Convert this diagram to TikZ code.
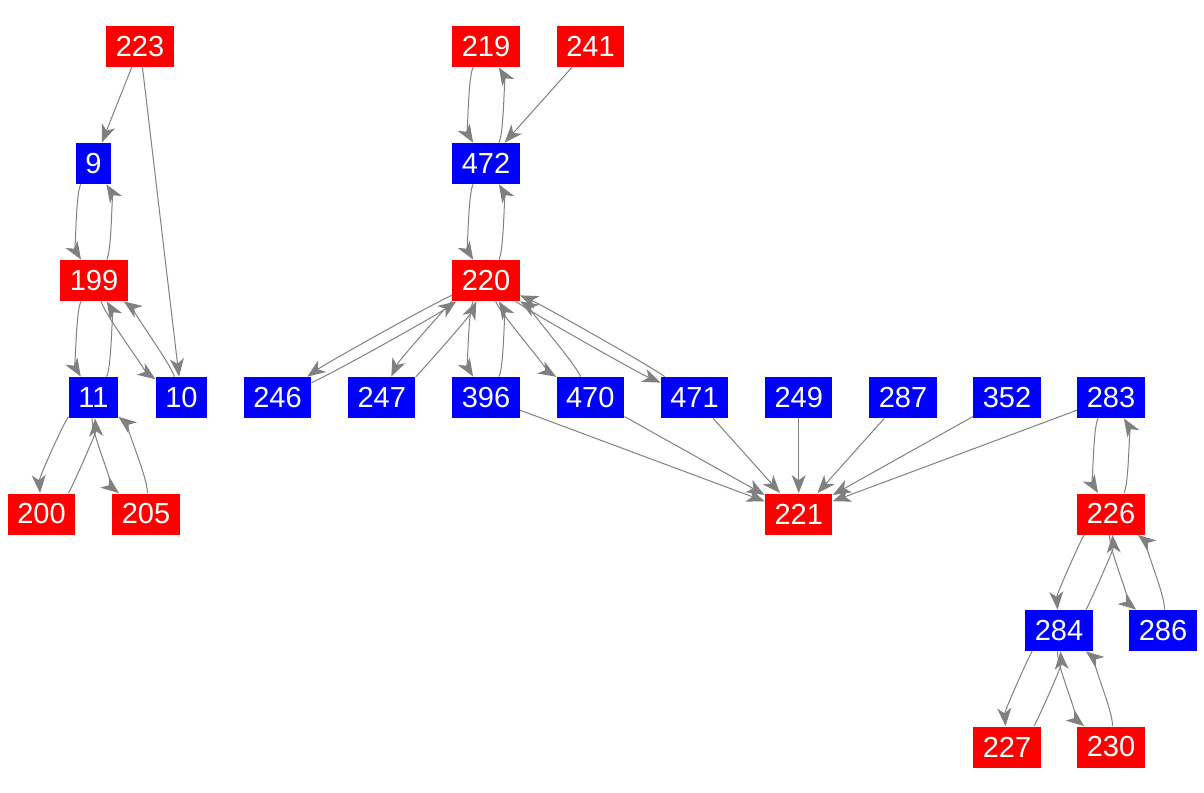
\documentclass[tikz,border=0pt]{standalone}
\usepackage{fontspec}
\setmainfont{Liberation Sans}
\usepackage{tikz}
\usetikzlibrary{arrows.meta, positioning, calc}
\definecolor{nodered}{RGB}{255,0,0}
\definecolor{nodeblue}{RGB}{0,0,255}
\definecolor{edgegray}{RGB}{128,128,128}
\tikzset{
  vbox/.style    = {rectangle, text=white, inner xsep=4.75pt, inner ysep=0pt,
                    minimum height=20.5pt, font=\fontsize{14.5}{17}\selectfont},
  redbox/.style  = {vbox, fill=nodered},
  bluebox/.style = {vbox, fill=nodeblue},
  edge/.style    = {-{Stealth[length=9pt, width=7pt, inset=2.6pt]},
                    draw=edgegray, line width=0.5pt},
}
\begin{document}
\begin{tikzpicture}[x=0.5pt, y=0.5pt]
  \useasboundingbox (0,0) rectangle (1204,-792);

  % Left component
  \node[redbox]  (n223) at (140,-46.5)   {223};
  \node[bluebox] (n9)   at (93.5,-163.5) {9};
  \node[redbox]  (n199) at (94,-280.5)   {199};
  \node[bluebox] (n11)  at (93.5,-397.5) {11};
  \node[bluebox] (n10)  at (181.5,-397.5){10};
  \node[redbox]  (n200) at (41.5,-514)   {200};
  \node[redbox]  (n205) at (146,-514)    {205};

  % Middle component
  \node[redbox]  (n219) at (486,-46.5)   {219};
  \node[redbox]  (n241) at (590.5,-46.5) {241};
  \node[bluebox] (n472) at (486,-163.5)  {472};
  \node[redbox]  (n220) at (486,-280.5)  {220};
  \node[bluebox] (n246) at (277.5,-397.5){246};
  \node[bluebox] (n247) at (381.7,-397.5){247};
  \node[bluebox] (n396) at (486,-397.5)  {396};
  \node[bluebox] (n470) at (590.3,-397.5){470};
  \node[bluebox] (n471) at (694.5,-397.5){471};
  \node[bluebox] (n249) at (798.7,-397.5){249};
  \node[bluebox] (n287) at (903,-397.5)  {287};
  \node[bluebox] (n352) at (1007,-397.5) {352};
  \node[bluebox] (n283) at (1111,-397.5) {283};
  \node[redbox]  (n221) at (798.7,-514)  {221};

  % Right component
  \node[redbox]  (n226) at (1111,-514)   {226};
  \node[bluebox] (n284) at (1059,-630.5) {284};
  \node[bluebox] (n286) at (1163,-630.5) {286};
  \node[redbox]  (n227) at (1007,-747)   {227};
  \node[redbox]  (n230) at (1111,-747)   {230};

  % Single edges
  \draw[edge] (n223) -- (n9);
  \draw[edge] (n223) -- (n10);
  \draw[edge] (n241) -- (n472);
  \foreach \src in {396,470,471,249,287,352,283}
    \draw[edge] (n\src) -- (n221);

  % Two-way edges: one curve each way, bent to its right
  \foreach \a/\b/\off in {9/199/9pt, 199/11/9pt, 11/200/8.5pt, 11/205/8.5pt,
                          219/472/9pt, 472/220/9pt, 220/396/9pt,
                          283/226/9pt, 226/284/8.5pt, 226/286/8.5pt,
                          284/227/8.5pt, 284/230/8.5pt,
                          199/10/6pt, 220/247/6pt, 220/470/6pt,
                          220/246/3pt, 220/471/3pt} {
    \draw[edge] (n\a) .. controls ($(n\a)!0.25!(n\b)!\off!-90:(n\b)$)
                         and ($(n\b)!0.25!(n\a)!\off!90:(n\a)$) .. (n\b);
    \draw[edge] (n\b) .. controls ($(n\b)!0.25!(n\a)!\off!-90:(n\a)$)
                         and ($(n\a)!0.25!(n\b)!\off!90:(n\b)$) .. (n\a);
  }
\end{tikzpicture}
\end{document}
